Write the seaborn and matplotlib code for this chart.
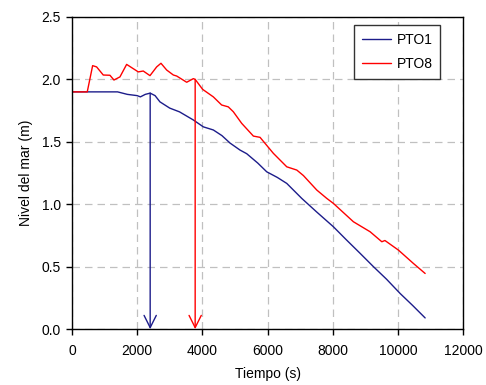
import numpy as np
import pandas as pd
import matplotlib
matplotlib.use("Agg")
import matplotlib.pyplot as plt
import seaborn as sns

# PTO1 series (time in s, sea level in m)
t_pto1 = [0, 500, 1000, 1400, 1700, 2000, 2100, 2250, 2400, 2550, 2700, 3000,
          3300, 3724, 4030, 4337, 4600, 4850, 5156, 5361, 5700, 5975, 6300,
          6590, 7050, 7500, 8020, 8400, 8840, 9250, 9650, 10066, 10450, 10834]
v_pto1 = [1.90, 1.90, 1.90, 1.90, 1.88, 1.87, 1.86, 1.88, 1.89, 1.87, 1.82, 1.77,
          1.74, 1.675, 1.62, 1.595, 1.55, 1.49, 1.434, 1.405, 1.33, 1.26, 1.215,
          1.167, 1.047, 0.94, 0.82, 0.72, 0.607, 0.50, 0.40, 0.286, 0.19, 0.09]

# PTO8 series
t_pto8 = [0, 470, 635, 757, 961, 1166, 1289, 1473, 1678, 2035, 2188, 2394,
          2599, 2731, 2906, 3111, 3213, 3520, 3724, 3780, 4010, 4337, 4592,
          4796, 4950, 5207, 5566, 5770, 6178, 6590, 6897, 7100, 7510, 7817,
          8020, 8634, 9146, 9505, 9600, 10015, 10475, 10834]
v_pto8 = [1.90, 1.90, 2.11, 2.10, 2.035, 2.033, 1.995, 2.02, 2.12, 2.06, 2.067, 2.03,
          2.10, 2.129, 2.075, 2.035, 2.027, 1.977, 2.006, 2.00, 1.92, 1.86, 1.795,
          1.78, 1.741, 1.648, 1.546, 1.536, 1.408, 1.30, 1.274, 1.23, 1.114, 1.047,
          1.007, 0.86, 0.78, 0.70, 0.71, 0.633, 0.526, 0.446]

series_names = ["PTO1", "PTO8"]
series_colors = ["#1c1c8a", "#ff0000"]
# times marked with arrows
arrow_times = [2400, 3780]

df = pd.concat([
    pd.DataFrame({"Tiempo": t_pto1, "Nivel": v_pto1, "serie": "PTO1"}),
    pd.DataFrame({"Tiempo": t_pto8, "Nivel": v_pto8, "serie": "PTO8"}),
])

sns.set_style("white")
plt.rcParams["font.family"] = ["Liberation Sans", "DejaVu Sans"]
plt.rcParams["text.color"] = "black"
plt.rcParams["axes.labelcolor"] = "black"
plt.rcParams["xtick.color"] = "black"
plt.rcParams["ytick.color"] = "black"

fig, ax = plt.subplots(figsize=(4.86, 3.85), dpi=100)
fig.subplots_adjust(left=0.148, right=0.953, top=0.956, bottom=0.145)

sns.lineplot(data=df, x="Tiempo", y="Nivel", hue="serie", hue_order=series_names,
             palette=series_colors, linewidth=1.0, ax=ax)

for name, color, t_arr, ts, vs in zip(series_names, series_colors, arrow_times,
                                      [t_pto1, t_pto8], [v_pto1, v_pto8]):
    level = np.interp(t_arr, ts, vs)
    ax.annotate("", xy=(t_arr, 0), xytext=(t_arr, level),
                arrowprops=dict(arrowstyle="->", color=color, lw=1.0,
                                mutation_scale=22, shrinkA=0, shrinkB=0))

ax.set_xlim(0, 12000)
ax.set_ylim(0, 2.5)
ax.set_xticks(range(0, 12001, 2000))
ax.set_yticks(np.arange(0, 2.51, 0.5))
ax.yaxis.set_major_formatter(matplotlib.ticker.FormatStrFormatter("%.1f"))
ax.grid(True, color="#c0c0c0", linestyle=(0, (6, 4)), linewidth=0.9)
ax.tick_params(direction="out", length=4.5, width=1, color="black", labelsize=10,
               left=True, bottom=True)
ax.tick_params(axis="x", pad=6)
for s in ax.spines.values():
    s.set_color("black")
    s.set_linewidth(1.0)

ax.set_xlabel("Tiempo (s)", fontsize=10, labelpad=7)
ax.set_ylabel("Nivel del mar (m)", fontsize=10, labelpad=6)

leg = ax.legend(loc="upper right", bbox_to_anchor=(0.941, 0.974), borderaxespad=0,
                fontsize=10, frameon=True, fancybox=False, edgecolor="#333333",
                handlelength=2.1, handletextpad=0.4, borderpad=0.55,
                labelspacing=0.75)
leg.get_frame().set_linewidth(1.0)
leg.get_frame().set_alpha(1)

fig.savefig("out.png", dpi=100)
